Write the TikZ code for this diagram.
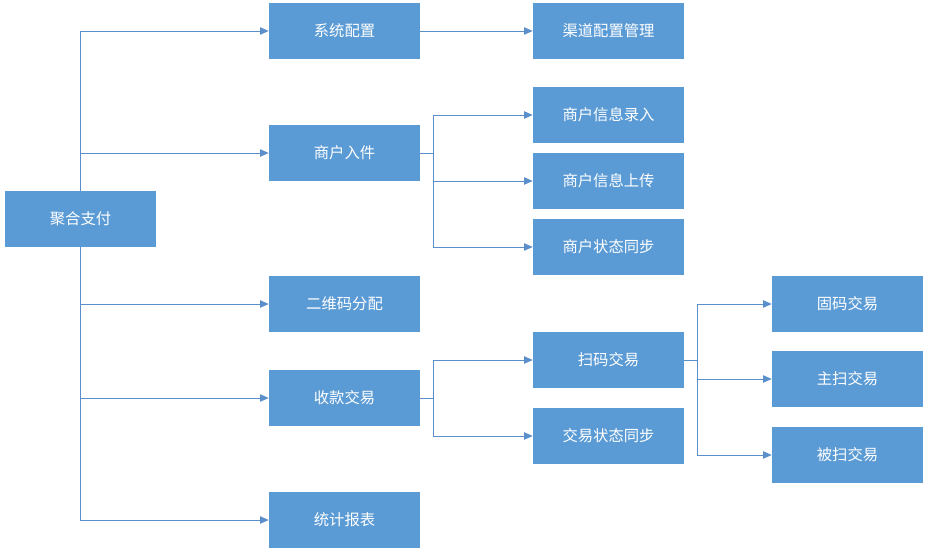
\documentclass[tikz,border=0pt]{standalone}
\usepackage{fontspec}
\newfontfamily\cjk{Noto Sans CJK SC}
\usetikzlibrary{arrows.meta}
\definecolor{boxblue}{HTML}{5B9BD5}
\definecolor{lineblue}{HTML}{5A8FCB}
\begin{document}
\begin{tikzpicture}[x=0.75pt,y=-0.75pt,
  box/.style={draw=none,fill=boxblue,minimum width=113.25pt,minimum height=42pt,inner sep=0pt,text=white,font=\cjk\fontsize{11.5}{13.5}\selectfont},
  conn/.style={draw=lineblue,line width=0.75pt,-{Triangle[length=6.5pt,width=5.5pt]}},
  plain/.style={draw=lineblue,line width=0.75pt}]
\useasboundingbox (0,0) rectangle (929,557);
\node[box] (root) at (80.5,219) {聚合支付};
\node[box] (sys) at (344.5,31) {系统配置};
\node[box] (chan) at (608.5,31) {渠道配置管理};
\node[box] (mi) at (344.5,153) {商户入件};
\node[box] (m1) at (608.5,115) {商户信息录入};
\node[box] (m2) at (608.5,181) {商户信息上传};
\node[box] (m3) at (608.5,247) {商户状态同步};
\node[box] (qr) at (344.5,304) {二维码分配};
\node[box] (pay) at (344.5,398) {收款交易};
\node[box] (scan) at (608.5,360) {扫码交易};
\node[box] (stat) at (608.5,436) {交易状态同步};
\node[box] (rep) at (344.5,520) {统计报表};
\node[box] (s1) at (847.5,304) {固码交易};
\node[box] (s2) at (847.5,379) {主扫交易};
\node[box] (s3) at (847.5,455) {被扫交易};
% root branches
\draw[conn] (root.north) |- (sys.west);
\draw[conn] (root.north) |- (mi.west);
\draw[conn] (root.south) |- (qr.west);
\draw[conn] (root.south) |- (pay.west);
\draw[conn] (root.south) |- (rep.west);
\draw[conn] (sys.east) -- (chan.west);
% merchant branches
\coordinate (mj) at ([xshift=9.75pt]mi.east);
\draw[plain] (mi.east) -- (mj);
\draw[conn] (mj) |- (m1.west);
\draw[conn] (mj) |- (m2.west);
\draw[conn] (mj) |- (m3.west);
% pay branches
\coordinate (pj) at ([xshift=9.75pt]pay.east);
\draw[plain] (pay.east) -- (pj);
\draw[conn] (pj) |- (scan.west);
\draw[conn] (pj) |- (stat.west);
% scan branches
\coordinate (sj) at ([xshift=9.75pt]scan.east);
\draw[plain] (scan.east) -- (sj);
\draw[conn] (sj) |- (s1.west);
\draw[conn] (sj) |- (s2.west);
\draw[conn] (sj) |- (s3.west);
\end{tikzpicture}
\end{document}
